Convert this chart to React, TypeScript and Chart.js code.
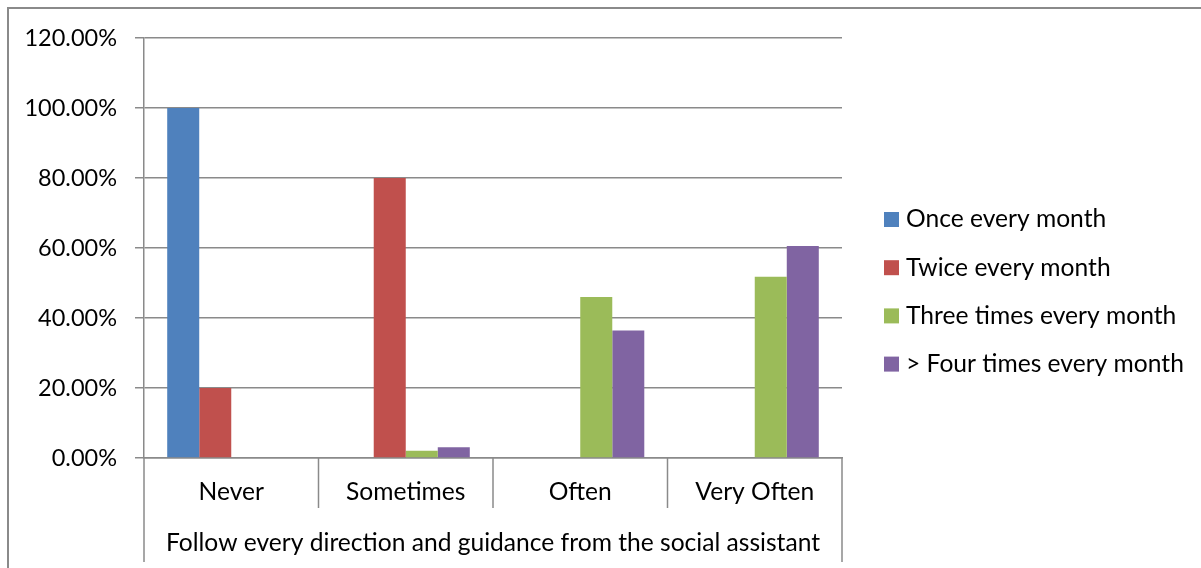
import { useEffect, useRef } from "react";
import { Chart, registerables } from "chart.js";

Chart.register(...registerables);

// Survey answers (categories) and the share of each visit frequency (%)
const categories = ["Never", "Sometimes", "Often", "Very Often"];
const groupLabel = "Follow every direction and guidance from the social assistant";
const seriesNames = [
  "Once every month",
  "Twice every month",
  "Three times every month",
  "> Four times every month",
];
const onceEveryMonth = [100, 0, 0, 0];
const twiceEveryMonth = [20, 80, 0, 0];
const threeTimesEveryMonth = [0, 2.1, 46.0, 51.8];
const fourTimesEveryMonth = [0, 3.1, 36.4, 60.6];
const seriesColors = ["#4F81BD", "#C0504D", "#9BBB59", "#8064A2"];
const yTicks = { min: 0, max: 120, step: 20 };

const FONT = "Lato, 'Open Sans', sans-serif";
const TEXT_SIZE = 24.6;
const TICK_SIZE = 23.5;
const LINE = "#8a8a8a";

// Chart geometry (canvas pixels)
const W = 1201;
const H = 568;
const PLOT_LEFT = 144;
const PLOT_RIGHT = 842;
const PLOT_TOP = 38;
const PLOT_BOTTOM = 458;
const INNER_SEP_BOTTOM = 508;
const OUTER_SEP_BOTTOM = 562;

const excelDecor = {
  id: "excelDecor",
  afterDraw(chart: any) {
    const ctx = chart.ctx as CanvasRenderingContext2D;
    const x = chart.scales.x;
    const area = chart.chartArea;
    ctx.save();
    ctx.strokeStyle = LINE;
    ctx.lineWidth = 1.5;

    // category separators of the two-level axis
    const n = categories.length;
    for (let i = 0; i <= n; i++) {
      let px: number;
      if (i === 0) px = area.left;
      else if (i === n) px = area.right;
      else px = (x.getPixelForValue(i - 1) + x.getPixelForValue(i)) / 2;
      const outer = i === 0 || i === n;
      ctx.beginPath();
      ctx.moveTo(px, area.bottom);
      ctx.lineTo(px, outer ? OUTER_SEP_BOTTOM : INNER_SEP_BOTTOM);
      ctx.stroke();
    }

    // chart frame
    ctx.lineWidth = 2;
    ctx.beginPath();
    ctx.moveTo(8, H);
    ctx.lineTo(8, 8);
    ctx.lineTo(W, 8);
    ctx.stroke();

    // legend on the right
    ctx.font = `${TEXT_SIZE}px ${FONT}`;
    ctx.textBaseline = "middle";
    ctx.textAlign = "left";
    chart.data.datasets.forEach((ds: any, i: number) => {
      const cy = 219.5 + i * 48.2;
      ctx.fillStyle = ds.backgroundColor;
      ctx.fillRect(884, cy - 7.5, 15, 15);
      ctx.fillStyle = "#000";
      ctx.fillText(ds.label, 906, cy);
    });
    ctx.restore();
  },
};

export default function App() {
  const ref = useRef<HTMLCanvasElement | null>(null);

  useEffect(() => {
    if (!ref.current) return;
    const values = [onceEveryMonth, twiceEveryMonth, threeTimesEveryMonth, fourTimesEveryMonth];
    const chart = new Chart(ref.current, {
      type: "bar",
      data: {
        labels: categories,
        datasets: values.map((d, i) => ({
          label: seriesNames[i],
          data: d,
          backgroundColor: seriesColors[i],
          borderWidth: 0,
          categoryPercentage: 0.734,
          barPercentage: 1,
        })),
      },
      plugins: [excelDecor],
      options: {
        responsive: false,
        animation: false,
        devicePixelRatio: 1,
        layout: {
          padding: { top: PLOT_TOP, right: W - PLOT_RIGHT, left: 0, bottom: 0 },
        },
        plugins: {
          legend: { display: false },
          tooltip: { enabled: false },
        },
        scales: {
          x: {
            offset: true,
            grid: { display: false, drawTicks: false },
            border: { display: true, color: LINE, width: 1.5 },
            ticks: {
              color: "#000",
              font: { family: FONT, size: TEXT_SIZE },
              padding: 19,
              maxRotation: 0,
            },
            title: {
              display: true,
              text: groupLabel,
              color: "#000",
              font: { family: FONT, size: TEXT_SIZE },
              padding: { top: 0, bottom: 10 },
            },
            afterFit(scale: any) {
              scale.height = H - PLOT_BOTTOM;
            },
          },
          y: {
            min: yTicks.min,
            max: yTicks.max,
            grid: { color: LINE, lineWidth: 1.5, tickLength: 9, drawTicks: true },
            border: { display: true, color: LINE, width: 1.5 },
            ticks: {
              stepSize: yTicks.step,
              color: "#000",
              font: { family: FONT, size: TICK_SIZE },
              padding: 18,
              callback: (v: any) => `${Number(v).toFixed(2)}%`,
            },
            afterFit(scale: any) {
              scale.width = PLOT_LEFT;
            },
          },
        },
      },
    });
    return () => chart.destroy();
  }, []);

  return (
    <div style={{ position: "absolute", left: 0, top: 0, width: W, height: H, background: "#fff" }}>
      <canvas ref={ref} width={W} height={H} style={{ display: "block", width: W, height: H }} />
    </div>
  );
}
